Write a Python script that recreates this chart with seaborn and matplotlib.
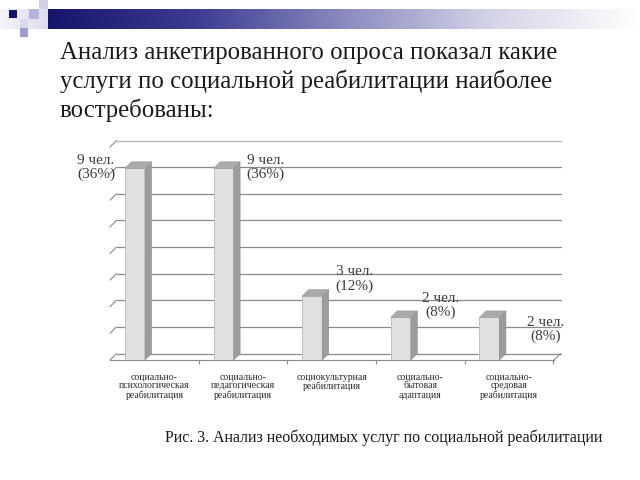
import numpy as np
import pandas as pd
import matplotlib
matplotlib.use("Agg")
import matplotlib.pyplot as plt
import seaborn as sns
from matplotlib.patches import Polygon, Rectangle
from matplotlib.lines import Line2D
from matplotlib.colors import LinearSegmentedColormap

# ---------------- data ----------------
categories = [
    "социально-\nпсихологическая\nреабилитация",
    "социально-\nпедагогическая\nреабилитация",
    "социокультурная\nреабилитация",
    "социально-\nбытовая\nадаптация",
    "социально-\nсредовая\nреабилитация",
]
people = [9, 9, 3, 2, 2]
percents = [36, 36, 12, 8, 8]
grid_values = [0, 5, 10, 15, 20, 25, 30, 35, 40]
title = ("Анализ анкетированного опроса показал какие\n"
         "услуги по социальной реабилитации наиболее\n"
         "востребованы:")
caption = "Рис. 3. Анализ необходимых услуг по социальной реабилитации"

# ---------------- style ----------------
sns.set_theme(style="white")
plt.rcParams['font.family'] = ['Liberation Serif', 'DejaVu Serif']

fig = plt.figure(figsize=(6.4, 4.8), dpi=100)

# decorative slide header
deco = fig.add_axes([0, 0, 1, 1], zorder=0)
deco.set_xlim(0, 640)
deco.set_ylim(480, 0)
deco.axis('off')
cmap = LinearSegmentedColormap.from_list(
    "hdr", ["#15156c", "#3c3c92", "#8a8abf", "#d4d4e8", "#ffffff"])
grad = np.linspace(0, 1, 256).reshape(1, -1)
deco.imshow(grad, extent=(48, 640, 29, 9), aspect='auto', cmap=cmap)
lgrad = LinearSegmentedColormap.from_list("hl", ["#f4f4fa", "#dcdcee"])
deco.imshow(grad, extent=(0, 48, 29, 9), aspect='auto', cmap=lgrad)
for (x, y, w, h, c) in [(9, 10, 8, 8, "#14146e"), (29, 9, 10, 10, "#b4b4da"),
                        (39, 0, 9, 9, "#cfcfe8"), (20, 19, 8, 9, "#d9d9ee"),
                        (20, 28, 8, 9, "#9c9cca")]:
    deco.add_patch(Rectangle((x, y), w, h, facecolor=c, edgecolor='none'))

fig.text(60 / 640, 1 - 42 / 480, title, ha='left', va='top', fontsize=17.8,
         linespacing=1.3, color='#1a1a1a', family=['Liberation Serif'])
fig.text(165 / 640, 1 - 442 / 480, caption, ha='left', va='baseline',
         fontsize=11.5, color='#1a1a1a', family=['Liberation Serif'])

# ---------------- chart ----------------
ax = fig.add_axes([110 / 640, 120 / 480, 444 / 640, 213 / 480], zorder=2)
ax.patch.set_alpha(0)
df = pd.DataFrame({"cat": categories, "pct": percents})
sns.barplot(data=df, x="cat", y="pct", color="#e0e0e0", width=0.226, ax=ax,
            edgecolor="#b8b8b8", linewidth=0.6, saturation=1, zorder=3)
x0l, x1l = -0.282, 4.729
ax.set_xlim(x0l, x1l)
ax.set_ylim(0, 40)

dx = 6.5 / 88.6
dy = 6.5 / 213 * 40

# back-wall gridlines with left slashes
for v in grid_values:
    col = '#b4b4b4' if v == 40 else '#8a8a8a'
    ax.add_line(Line2D([x0l + dx, x1l + dx], [v + dy, v + dy], color=col,
                       lw=0.9, zorder=1, clip_on=False))
    ax.add_line(Line2D([x0l, x0l + dx], [v, v + dy], color='#8a8a8a',
                       lw=0.8, zorder=1, clip_on=False))
ax.add_line(Line2D([x1l, x1l + dx], [0, dy], color='#8a8a8a', lw=0.8,
                   zorder=1, clip_on=False))

# 3D sides and tops of bars
for p in ax.patches[:len(percents)]:
    bx, bw, bh = p.get_x(), p.get_width(), p.get_height()
    side = Polygon([(bx + bw, 0), (bx + bw, bh), (bx + bw + dx, bh + dy),
                    (bx + bw + dx, dy)], closed=True, facecolor='#9c9c9c',
                   edgecolor='#8c8c8c', lw=0.4, zorder=3, clip_on=False)
    top = Polygon([(bx, bh), (bx + bw, bh), (bx + bw + dx, bh + dy),
                   (bx + dx, bh + dy)], closed=True, facecolor='#ababab',
                  edgecolor='#9a9a9a', lw=0.4, zorder=3, clip_on=False)
    ax.add_patch(side)
    ax.add_patch(top)

# value labels
offsets_px = [(-49, 1), (32, 1), (32, 17), (30, 12), (46, -12)]
for i, p in enumerate(ax.patches[:len(percents)]):
    ox, oy = offsets_px[i]
    ax.annotate(f"{people[i]} чел.\n({percents[i]}%)",
                xy=(p.get_x() + p.get_width(), p.get_height()),
                xytext=(ox * 0.72, oy * 0.72), textcoords='offset points',
                ha='center', va='center', fontsize=11, color='#3c3c3c',
                linespacing=1.1, annotation_clip=False, zorder=5)

# axes styling
for s in ['left', 'top', 'right']:
    ax.spines[s].set_visible(False)
ax.spines['bottom'].set_color('#8a8a8a')
ax.spines['bottom'].set_linewidth(0.8)
ax.set_yticks([])
ax.set_xlabel("")
ax.set_ylabel("")
ax.set_xticks(np.arange(len(categories)) + 0.22)
ax.set_xticklabels(categories, fontsize=7, linespacing=1.0, color='#2a2a2a')
ax.set_xticks(np.arange(len(categories)) + 0.72, minor=True)
ax.tick_params(axis='x', which='major', length=0, pad=9)
ax.tick_params(axis='x', which='minor', length=3, width=0.8, color='#8a8a8a',
               direction='out', bottom=True)

fig.savefig("out.png", dpi=100)
